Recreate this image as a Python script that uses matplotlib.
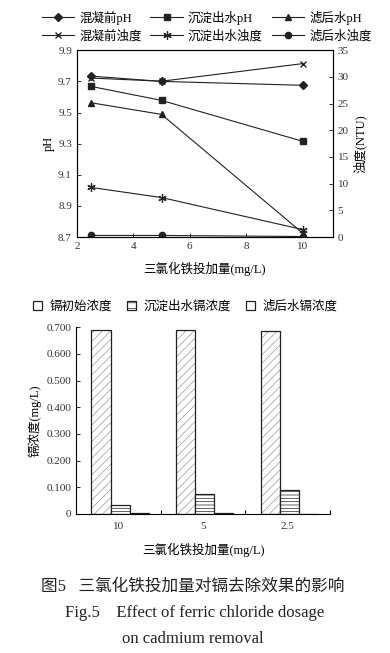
import numpy as np
import matplotlib.pyplot as plt
from matplotlib.patches import Patch

plt.rcParams['font.family'] = ['Liberation Serif', 'Noto Sans CJK SC']
plt.rcParams['axes.linewidth'] = 0.8
plt.rcParams['hatch.linewidth'] = 0.5

# top chart: pH and turbidity vs ferric chloride dosage
dosage = [2.5, 5, 10]
ph_raw = [9.734, 9.70, 9.675]
ph_settled = [9.668, 9.578, 9.315]
ph_filtered = [9.563, 9.488, 8.725]
turb_raw = [29.8, 29.2, 32.5]
turb_settled = [9.3, 7.4, 1.4]
turb_filtered = [0.3, 0.3, 0.1]

# bottom chart: cadmium concentrations
groups = ['10', '5', '2.5']
cd_initial = [0.690, 0.690, 0.687]
cd_settled = [0.035, 0.074, 0.090]
cd_filtered = [0.004, 0.002, 0.001]

fig = plt.figure(figsize=(3.9, 6.53), dpi=100)

ax = fig.add_axes([0.197, 0.637, 0.656, 0.286])
ax2 = ax.twinx()
lc = '#222222'
kw = dict(color=lc, lw=0.8, markersize=4.5)
h1, = ax.plot(dosage, ph_raw, marker='D', markersize=4, color=lc, lw=0.8, label='混凝前pH')
h2, = ax.plot(dosage, ph_settled, marker='s', label='沉淀出水pH', **kw)
h3, = ax.plot(dosage, ph_filtered, marker='^', label='滤后水pH', **kw)
h4, = ax2.plot(dosage, turb_raw, marker='x', label='混凝前浊度', color=lc, lw=0.8, markersize=5, mew=1)
h5, = ax2.plot(dosage, turb_settled, marker=(6, 2, 0), label='沉淀出水浊度', color=lc, lw=0.8, markersize=6, mew=0.9)
h6, = ax2.plot(dosage, turb_filtered, marker='o', label='滤后水浊度', **kw)

ax.set_xlim(2, 11.06)
ax.set_xticks([2, 4, 6, 8, 10])
ax.set_ylim(8.7, 9.9)
ax.set_yticks(np.arange(8.7, 9.95, 0.2))
ax.set_yticklabels(['8.7', '8.9', '9.1', '9.3', '9.5', '9.7', '9.9'])
ax2.set_ylim(0, 35)
ax2.set_yticks(range(0, 36, 5))
for a in (ax, ax2):
    a.tick_params(direction='in', length=3, width=0.7, labelsize=8, colors='#333333')
ax.set_ylabel('pH', fontsize=9, labelpad=2)
ax2.set_ylabel('浊度(NTU)', fontsize=9, labelpad=3)
ax.set_xlabel('三氯化铁投加量(mg/L)', fontsize=9, labelpad=8)

handles = [h1, h4, h2, h5, h3, h6]
fig.legend(handles, [h.get_label() for h in handles], ncol=3, loc='upper center',
           bbox_to_anchor=(0.53, 0.999), frameon=False, fontsize=9, handlelength=2.6,
           columnspacing=0.7, handletextpad=0.4, labelspacing=0.45, borderpad=0.3)

# bottom bars
bx = fig.add_axes([0.195, 0.2129, 0.651, 0.286])
x = np.arange(len(groups))
w = 0.225
off = 0.02
# hatch drawn light, outline drawn dark on top
bx.bar(x - w + off, cd_initial, w, facecolor='white', edgecolor='#9a9a9a', hatch='////',
       lw=0)
bx.bar(x - w + off, cd_initial, w, facecolor='none', edgecolor='#222222', lw=0.9)
bx.bar(x + off, cd_settled, w, facecolor='white', edgecolor='#222222', hatch='-----',
       lw=0.9)
bx.bar(x + w + off, cd_filtered, w, facecolor='white', edgecolor='#222222', lw=0.9)
bx.set_xlim(-0.5, 2.5)
bx.set_ylim(0, 0.7)
bx.set_xticks(x)
bx.set_xticklabels(groups)
bx.set_xticks([0.5, 1.5, 2.5], minor=True)
bx.set_yticks(np.arange(0, 0.71, 0.1))
bx.set_yticklabels(['0', '0.100', '0.200', '0.300', '0.400', '0.500', '0.600', '0.700'])
bx.tick_params(axis='y', direction='in', length=3, width=0.8, labelsize=8, colors='#333333')
bx.tick_params(axis='x', which='major', length=0, labelsize=8, colors='#333333', pad=6)
bx.tick_params(axis='x', which='minor', direction='in', length=3, width=0.8)
bx.spines['top'].set_visible(False)
bx.spines['right'].set_visible(False)
bx.set_ylabel('镉浓度(mg/L)', fontsize=9, labelpad=3)
bx.set_xlabel('三氯化铁投加量(mg/L)', fontsize=9, labelpad=8)

leg_handles = [Patch(facecolor='white', edgecolor='#222222', lw=0.9),
               Patch(facecolor='white', edgecolor='#222222', hatch='---', lw=0.9),
               Patch(facecolor='white', edgecolor='#222222', lw=0.9)]
bx.legend(leg_handles, ['镉初始浓度', '沉淀出水镉浓度', '滤后水镉浓度'], ncol=3,
          loc='lower center', bbox_to_anchor=(0.43, 1.03), frameon=False,
          fontsize=9, handlelength=0.7, handleheight=0.7, columnspacing=1.2,
          handletextpad=0.6, borderaxespad=0.3)

fig.text(0.495, 0.101, '图5   三氯化铁投加量对镉去除效果的影响', ha='center', va='center',
         fontsize=12, color='#222222')
fig.text(0.5, 0.061, 'Fig.5    Effect of ferric chloride dosage', ha='center', va='center',
         fontsize=12, color='#222222')
fig.text(0.495, 0.021, 'on cadmium removal', ha='center', va='center',
         fontsize=12, color='#222222')

fig.savefig('out.png', dpi=100)
